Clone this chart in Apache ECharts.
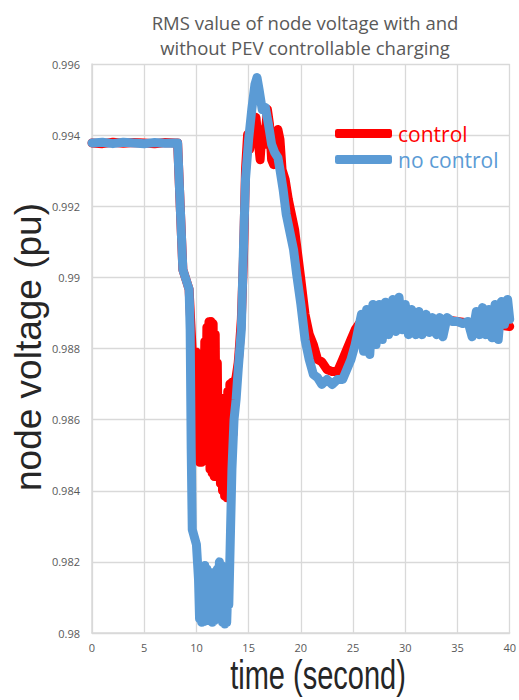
<!DOCTYPE html>
<html>
<head>
<meta charset="utf-8">
<script src="https://cdn.jsdelivr.net/npm/echarts@6/dist/echarts.min.js"></script>
<style>html,body{margin:0;padding:0;background:#fff}#c{width:519px;height:700px}</style>
</head>
<body>
<div id="c"></div>
<script>
// ---- data ----
const titleLines = ['RMS value of node voltage with and', 'without PEV controllable charging'];
const xAxisName = 'time (second)';
const yAxisName = 'node voltage (pu)';
const seriesNames = ['control', 'no control'];

const noControlTime = [0,1,2,3,4,5,6,7,8,8.2,8.5,8.7,9.0,9.3,9.4,9.5,9.6,10.0,10.1,10.2,10.3,10.4,10.5,10.6,10.7,10.8,10.9,11.0,11.1,11.2,11.3,11.4,11.5,11.6,11.7,11.8,11.9,12.0,12.1,12.2,12.3,12.4,12.5,12.6,12.7,12.8,12.9,13.0,13.1,13.2,13.4,13.6,13.8,14.0,14.3,14.5,14.7,15.0,15.3,15.6,15.8,16.0,16.3,16.6,16.9,17.2,17.5,17.8,18.0,18.3,18.6,19.0,19.3,19.6,20.0,20.4,20.8,21.2,21.6,22.0,22.5,23.0,23.5,24.0,24.4,24.8,25.2,25.5,25.8,26.0,26.3,26.6,26.9,27.2,27.5,27.8,28.1,28.4,28.8,29.1,29.4,29.7,30.0,30.3,30.6,31.0,31.3,31.6,32.0,32.3,32.6,33.0,33.3,33.6,34.0,34.5,35.0,35.5,36.0,36.4,36.8,37.1,37.4,37.7,38.0,38.3,38.6,38.9,39.2,39.5,39.8,40.0];
const noControlVoltage = [0.99378,0.99380,0.99376,0.99380,0.99378,0.99376,0.99379,0.99377,0.99378,0.99378,0.99163,0.99022,0.98994,0.98966,0.98853,0.98516,0.98291,0.98249,0.98200,0.98150,0.98040,0.98180,0.98030,0.98185,0.98032,0.98190,0.98040,0.98180,0.98035,0.98160,0.98040,0.98170,0.98030,0.98150,0.98035,0.98140,0.98050,0.98180,0.98060,0.98200,0.98045,0.98190,0.98030,0.98170,0.98025,0.98150,0.98030,0.98120,0.98080,0.98206,0.98460,0.98600,0.98657,0.98741,0.98854,0.99079,0.99276,0.99388,0.99472,0.99542,0.99562,0.99528,0.99472,0.99478,0.99430,0.99374,0.99351,0.99337,0.99303,0.99247,0.99177,0.99120,0.99078,0.99008,0.98924,0.98825,0.98769,0.98727,0.98718,0.98699,0.98713,0.98699,0.98713,0.98713,0.98741,0.98769,0.98811,0.98853,0.98896,0.98792,0.98910,0.98783,0.98924,0.98811,0.98924,0.98825,0.98930,0.98839,0.98938,0.98848,0.98944,0.98853,0.98924,0.98839,0.98910,0.98839,0.98904,0.98839,0.98896,0.98845,0.98887,0.98839,0.98887,0.98833,0.98887,0.98876,0.98876,0.98870,0.98876,0.98833,0.98904,0.98839,0.98915,0.98839,0.98910,0.98830,0.98924,0.98825,0.98932,0.98868,0.98938,0.98882];

const controlTime = [0,1,2,3,4,5,6,7,8,8.2,8.5,8.7,9.0,9.3,9.6,9.8,9.9,10.0,10.1,10.2,10.3,10.4,10.5,10.6,10.7,10.8,10.9,11.0,11.1,11.2,11.3,11.4,11.5,11.6,11.7,11.8,11.9,12.0,12.1,12.2,12.3,12.4,12.5,12.6,12.7,12.8,12.9,13.0,13.1,13.2,13.3,13.4,13.5,13.6,13.8,14.0,14.1,14.3,14.5,14.7,14.9,15.1,15.3,15.5,15.7,15.9,16.1,16.3,16.5,16.8,17.0,17.2,17.4,17.6,17.8,18.0,18.2,18.5,18.8,19.1,19.4,19.7,20.0,20.4,20.8,21.2,21.6,22.0,22.5,23.0,23.5,24.0,24.4,24.8,25.2,25.6,26,27,28,29,30,31,32,33,34,35,36,37,38,39,40];
const controlVoltage = [0.99378,0.99376,0.99380,0.99377,0.99379,0.99378,0.99376,0.99379,0.99378,0.99378,0.99163,0.99022,0.98994,0.98966,0.98790,0.98780,0.98600,0.98790,0.98500,0.98785,0.98480,0.98780,0.98480,0.98760,0.98500,0.98820,0.98560,0.98860,0.98500,0.98875,0.98460,0.98876,0.98450,0.98870,0.98440,0.98840,0.98440,0.98760,0.98450,0.98660,0.98420,0.98660,0.98400,0.98650,0.98385,0.98640,0.98380,0.98680,0.98420,0.98700,0.98500,0.98705,0.98560,0.98700,0.98720,0.98760,0.98797,0.98882,0.99050,0.99303,0.99402,0.99360,0.99416,0.99430,0.99450,0.99388,0.99331,0.99416,0.99374,0.99472,0.99430,0.99331,0.99317,0.99388,0.99416,0.99388,0.99303,0.99275,0.99219,0.99177,0.99135,0.99064,0.98994,0.98896,0.98840,0.98811,0.98769,0.98763,0.98741,0.98735,0.98735,0.98769,0.98797,0.98825,0.98853,0.98870,0.98860,0.98880,0.98875,0.98885,0.98880,0.98885,0.98880,0.98875,0.98880,0.98876,0.98872,0.98870,0.98868,0.98866,0.98862];

const xTicks = {min: 0, max: 40, interval: 5};
const yTicks = {min: 0.980, max: 0.996, interval: 0.002};
// ---------------------------------------

const zip = (a, b) => a.map((t, i) => [t, b[i]]);
const RED = '#FF0000', BLUE = '#5B9BD5', GRID = '#D9D9D9', LABEL = '#595959';

const chart = echarts.init(document.getElementById('c'), null, {renderer: 'svg'});
chart.setOption({
  animation: false,
  backgroundColor: '#fff',
  grid: {left: 92, right: 6, top: 64, bottom: 67, containLabel: false},
  xAxis: {
    type: 'value', min: xTicks.min, max: xTicks.max, interval: xTicks.interval,
    axisLine: {show: true, lineStyle: {color: GRID, width: 1.5}},
    axisTick: {show: false},
    axisLabel: {color: LABEL, fontSize: 11, fontFamily: 'Open Sans', margin: 9},
    splitLine: {show: true, lineStyle: {color: GRID, width: 1.3}}
  },
  yAxis: {
    type: 'value', min: yTicks.min, max: yTicks.max, interval: yTicks.interval,
    axisLine: {show: true, lineStyle: {color: GRID, width: 1.5}},
    axisTick: {show: false},
    axisLabel: {color: LABEL, fontSize: 11, fontFamily: 'Open Sans', margin: 12,
      formatter: v => String(+v.toFixed(3))},
    splitLine: {show: true, lineStyle: {color: GRID, width: 1.3}}
  },
  legend: {
    orient: 'vertical', left: 330, top: 118, itemWidth: 57, itemHeight: 9, itemGap: 5,
    icon: 'roundRect',
    textStyle: {fontSize: 21, fontFamily: 'Open Sans', padding: [0, 0, 0, 1]},
    data: [
      {name: seriesNames[0], textStyle: {color: RED}},
      {name: seriesNames[1], textStyle: {color: BLUE}}
    ]
  },
  series: [
    {name: seriesNames[0], type: 'line', data: zip(controlTime, controlVoltage),
      showSymbol: false, itemStyle: {color: RED},
      lineStyle: {color: RED, width: 9, cap: 'round', join: 'round'}},
    {name: seriesNames[1], type: 'line', data: zip(noControlTime, noControlVoltage),
      showSymbol: false, itemStyle: {color: BLUE},
      lineStyle: {color: BLUE, width: 9, cap: 'round', join: 'round'}}
  ],
  graphic: [
    {type: 'text', x: 305, y: 22, style: {text: titleLines[0], x: 0, y: 0, align: 'center', verticalAlign: 'middle', font: '18.5px "Open Sans"', fill: LABEL}},
    {type: 'text', x: 305, y: 47, style: {text: titleLines[1], x: 0, y: 0, align: 'center', verticalAlign: 'middle', font: '18.5px "Open Sans"', fill: LABEL}},
    {type: 'text', x: 318, y: 675, scaleY: 1.4, style: {text: xAxisName, x: 0, y: 0, align: 'center', verticalAlign: 'middle', font: '29px "Liberation Sans"', fill: '#262626'}},
    {type: 'text', x: 28, y: 347, rotation: Math.PI / 2, style: {text: yAxisName, x: 0, y: 0, align: 'center', verticalAlign: 'middle', font: '37px "Liberation Sans"', fill: '#262626'}}
  ]
});
</script>
</body>
</html>
